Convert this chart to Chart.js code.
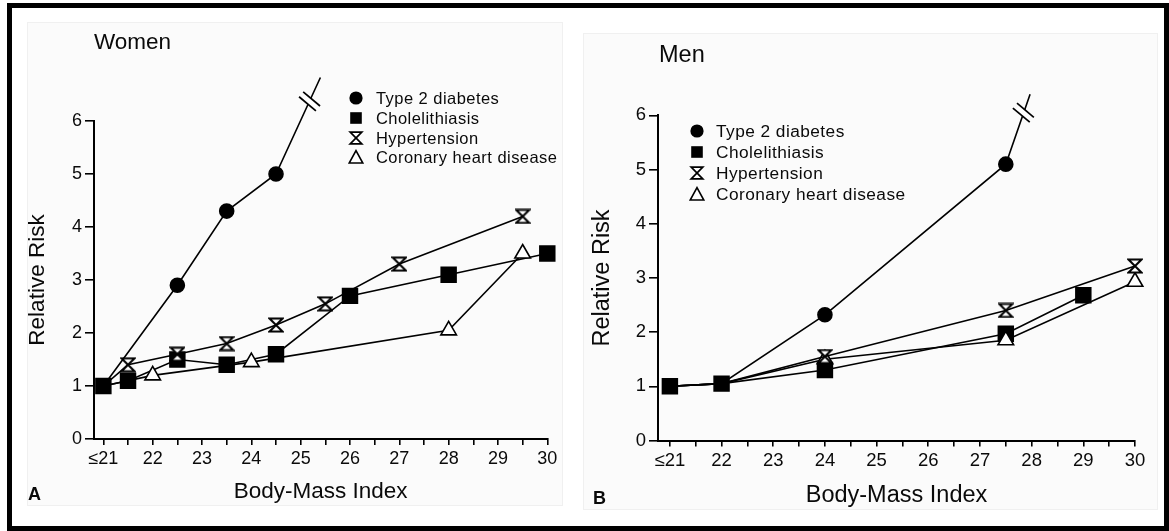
<!DOCTYPE html>
<html>
<head>
<meta charset="utf-8">
<title>Relative risk by body-mass index</title>
<script src="https://cdn.jsdelivr.net/npm/chart.js@4.4.1/dist/chart.umd.min.js"></script>
<style>
  html, body { margin: 0; padding: 0; background: #fff; }
  body { width: 1169px; height: 531px; position: relative; overflow: hidden;
         font-family: "Liberation Sans", Arial, Helvetica, sans-serif; color: #0a0a0a; }
  .frame { position: absolute; left: 7px; top: 3px; width: 1162px; height: 528px;
           box-sizing: border-box; border: 5px solid #000; }
  .panel { position: absolute; background: #fbfbfb; border: 1px solid #f0f0f0; box-sizing: border-box; }
  canvas { position: absolute; top: 0; }
  .title { position: absolute; line-height: 1; white-space: nowrap; }
  .letter { position: absolute; font-weight: bold; line-height: 1; }
  .legend-row { position: absolute; white-space: nowrap; }
  .legend-row svg { position: absolute; top: 0; }
  .legend-row span { position: absolute; top: 0; letter-spacing: 0.45px; }
</style>
</head>
<body>
<div class="frame"></div>
<div class="panel" style="left:27px;top:22px;width:536px;height:484px;"></div>
<div class="panel" style="left:583px;top:33px;width:575px;height:477px;"></div>

<canvas id="women" width="580" height="531" style="left:0;width:580px;height:531px;"></canvas>
<canvas id="men" width="589" height="531" style="left:580px;width:589px;height:531px;"></canvas>

<div class="title" style="left:94px;top:31px;font-size:22.5px;">Women</div>
<div class="title" style="left:659px;top:43px;font-size:23.5px;">Men</div>
<div class="letter" style="left:28px;top:485px;font-size:18px;">A</div>
<div class="letter" style="left:593px;top:489px;font-size:18px;">B</div>
<div id="legend-women"></div>
<div id="legend-men"></div>

<script>
// ---- data -------------------------------------------------------------
const seriesNames = ['Type 2 diabetes', 'Cholelithiasis', 'Hypertension', 'Coronary heart disease'];
const bmiTickValues = [21, 22, 23, 24, 25, 26, 27, 28, 29, 30];
const bmiTickLabels = ['\u226421', '22', '23', '24', '25', '26', '27', '28', '29', '30'];
const riskTickValues = [0, 1, 2, 3, 4, 5, 6];

// Women
const womenDiabetesBmi  = [21, 22.5, 23.5, 24.5, 25.4];
const womenDiabetesRisk = [1.0, 2.9, 4.3, 5.0, 6.82];
const womenGallBmi      = [21, 21.5, 22.5, 23.5, 24.5, 26, 28, 30];
const womenGallRisk     = [1.0, 1.1, 1.5, 1.4, 1.6, 2.7, 3.1, 3.5];
const womenHyperBmi     = [21, 21.5, 22.5, 23.5, 24.5, 25.5, 27, 29.5];
const womenHyperRisk    = [1.0, 1.4, 1.6, 1.8, 2.15, 2.55, 3.3, 4.2];
const womenChdBmi       = [21, 22, 24, 28, 29.5];
const womenChdRisk      = [1.0, 1.2, 1.45, 2.05, 3.5];
const womenBreak        = [25.18, 6.37];

// Men
const menDiabetesBmi  = [21, 22, 24, 27.5, 27.97];
const menDiabetesRisk = [1.0, 1.05, 2.32, 5.1, 6.39];
const menGallBmi      = [21, 22, 24, 27.5, 29];
const menGallRisk     = [1.0, 1.05, 1.3, 1.97, 2.68];
const menHyperBmi     = [21, 22, 24, 27.5, 30];
const menHyperRisk    = [1.0, 1.05, 1.55, 2.4, 3.22];
const menChdBmi       = [21, 22, 24, 27.5, 30];
const menChdRisk      = [1.0, 1.05, 1.5, 1.85, 2.93];
const menBreak        = [27.84, 6.05];

// ---- marker shapes ----------------------------------------------------
function hourglassCanvas(w, h) {
  const c = document.createElement('canvas');
  c.width = w; c.height = h;
  const g = c.getContext('2d');
  g.lineWidth = 2; g.strokeStyle = '#000'; g.fillStyle = '#fff'; g.lineJoin = 'miter';
  g.beginPath();
  g.moveTo(1.5, 1.5); g.lineTo(w - 1.5, 1.5); g.lineTo(1.5, h - 1.5); g.lineTo(w - 1.5, h - 1.5); g.closePath();
  g.fill(); g.stroke();
  return c;
}
const hourglass = hourglassCanvas(16, 16);

Chart.defaults.font.family = '"Liberation Sans", Arial, Helvetica, sans-serif';
Chart.defaults.color = '#0a0a0a';

function pts(xs, ys) { return xs.map((x, i) => ({ x: x, y: ys[i] })); }

// radius list: hide the first `skip` markers (shared reference point) and optionally the last one
function radii(n, r, skip, hideLast) {
  return Array.from({ length: n }, (_, i) => (i < skip || (hideLast && i === n - 1)) ? 0 : r);
}

function buildDatasets(d, skip) {
  const base = { borderColor: '#000', borderWidth: 1.6, pointBorderColor: '#000',
                 pointBorderWidth: 1.6, tension: 0, clip: false, fill: false };
  return [
    Object.assign({}, base, { label: seriesNames[0], data: pts(d.diaX, d.diaY), order: 3,
      pointStyle: 'circle', pointBackgroundColor: '#000',
      pointRadius: radii(d.diaX.length, 7, skip, true) }),
    Object.assign({}, base, { label: seriesNames[1], data: pts(d.galX, d.galY), order: 2,
      pointStyle: 'rect', pointBackgroundColor: '#000',
      pointRadius: radii(d.galX.length, 10.5, 0, false) }),
    Object.assign({}, base, { label: seriesNames[2], data: pts(d.hypX, d.hypY), order: 0,
      pointStyle: hourglass, pointBackgroundColor: '#fff',
      pointRadius: radii(d.hypX.length, 7, skip, false) }),
    Object.assign({}, base, { label: seriesNames[3], data: pts(d.chdX, d.chdY), order: 1,
      pointStyle: 'triangle', pointBackgroundColor: '#fff',
      pointRadius: radii(d.chdX.length, 9, skip, false) })
  ];
}

// Double-slash break marks on the steep diabetes line
const axisBreak = {
  id: 'axisBreak',
  afterDatasetsDraw(chart, args, opts) {
    if (!opts || !opts.at) return;
    const px = chart.scales.x.getPixelForValue(opts.at[0]);
    const py = chart.scales.y.getPixelForValue(opts.at[1]);
    const a = 40 * Math.PI / 180;
    const dx = Math.cos(a), dy = Math.sin(a);
    const nx = -dy, ny = dx;
    const half = 11, gap = 3.2;
    const ctx = chart.ctx;
    ctx.save();
    ctx.fillStyle = '#fff';
    ctx.beginPath();
    ctx.moveTo(px - dx * 8 + nx * gap, py - dy * 8 + ny * gap);
    ctx.lineTo(px + dx * 8 + nx * gap, py + dy * 8 + ny * gap);
    ctx.lineTo(px + dx * 8 - nx * gap, py + dy * 8 - ny * gap);
    ctx.lineTo(px - dx * 8 - nx * gap, py - dy * 8 - ny * gap);
    ctx.closePath();
    ctx.fill();
    ctx.strokeStyle = '#000';
    ctx.lineWidth = 1.7;
    [gap, -gap].forEach(o => {
      ctx.beginPath();
      ctx.moveTo(px - dx * half + nx * o, py - dy * half + ny * o);
      ctx.lineTo(px + dx * half + nx * o, py + dy * half + ny * o);
      ctx.stroke();
    });
    ctx.restore();
  }
};

function bmiLabel(v) {
  const i = bmiTickValues.indexOf(v);
  return i >= 0 ? bmiTickLabels[i] : '';
}

function makeChart(id, datasets, cfg) {
  return new Chart(document.getElementById(id), {
    type: 'line',
    data: { datasets: datasets },
    plugins: [axisBreak],
    options: {
      responsive: false, animation: false, devicePixelRatio: 1, events: [],
      layout: { padding: cfg.padding },
      plugins: { legend: { display: false }, tooltip: { enabled: false }, axisBreak: { at: cfg.breakAt } },
      scales: {
        x: {
          type: 'linear', min: cfg.xMin, max: 30,
          afterFit: s => { s.height = cfg.xHeight; },
          border: { color: '#000', width: 2 },
          grid: { drawOnChartArea: false, drawTicks: true, tickLength: 6, color: '#000', lineWidth: 1.6 },
          ticks: { stepSize: 0.5, includeBounds: false, autoSkip: false, maxRotation: 0,
                   padding: 3, color: '#0a0a0a', font: { size: cfg.tickSize }, callback: v => bmiLabel(v) },
          title: { display: true, text: 'Body-Mass Index', color: '#0a0a0a',
                   font: { size: cfg.titleSize }, padding: { top: 0, bottom: cfg.xTitlePad } }
        },
        y: {
          type: 'linear', min: 0, max: 6,
          afterFit: s => { s.width = cfg.yWidth; },
          border: { color: '#000', width: 2 },
          grid: { drawOnChartArea: false, drawTicks: true, tickLength: 9, color: '#000', lineWidth: 1.6 },
          afterBuildTicks: s => { s.ticks = riskTickValues.map(v => ({ value: v })); },
          ticks: { padding: 3, color: '#0a0a0a', font: { size: cfg.tickSize }, callback: v => String(v) },
          title: { display: true, text: 'Relative Risk', color: '#0a0a0a',
                   font: { size: cfg.titleSize }, padding: { top: cfg.yTitlePad, bottom: 0 } }
        }
      }
    }
  });
}

makeChart('women', buildDatasets({
  diaX: womenDiabetesBmi, diaY: womenDiabetesRisk, galX: womenGallBmi, galY: womenGallRisk,
  hypX: womenHyperBmi, hypY: womenHyperRisk, chdX: womenChdBmi, chdY: womenChdRisk }, 1), {
  padding: { left: 20, right: 32.7, top: 121, bottom: 22 },
  xMin: 20.81, xHeight: 70, yWidth: 74, tickSize: 18, titleSize: 22.5,
  xTitlePad: 3.5, yTitlePad: 4.5, breakAt: womenBreak
});

makeChart('men', buildDatasets({
  diaX: menDiabetesBmi, diaY: menDiabetesRisk, galX: menGallBmi, galY: menGallRisk,
  hypX: menHyperBmi, hypY: menHyperRisk, chdX: menChdBmi, chdY: menChdRisk }, 2), {
  padding: { left: 5, right: 34, top: 115.4, bottom: 20.5 },
  xMin: 20.77, xHeight: 70, yWidth: 73, tickSize: 18.5, titleSize: 23.5,
  xTitlePad: 0.5, yTitlePad: 3, breakAt: menBreak
});

// ---- legends ----------------------------------------------------------
const markerSvg = [
  '<circle cx="8" cy="8" r="6.6" fill="#000"/>',
  '<rect x="2.2" y="2.2" width="11.6" height="11.6" fill="#000"/>',
  '<path d="M2.2 2.2 H13.8 L2.2 13.8 H13.8 Z" fill="#fff" stroke="#000" stroke-width="1.7"/>',
  '<path d="M8 1.6 L14.8 14 H1.2 Z" fill="#fff" stroke="#000" stroke-width="1.6"/>'
];
function buildLegend(id, markerX, textX, rowsY, fontSize) {
  const host = document.getElementById(id);
  seriesNames.forEach((name, i) => {
    const row = document.createElement('div');
    row.className = 'legend-row';
    const h = 20;
    row.style.left = '0px';
    row.style.top = (rowsY[i] - h / 2) + 'px';
    row.style.height = h + 'px';
    row.style.fontSize = fontSize + 'px';
    row.style.lineHeight = h + 'px';
    row.innerHTML = '<svg width="16" height="16" viewBox="0 0 16 16" style="left:' + (markerX - 8) +
      'px;top:2px">' + markerSvg[i] + '</svg><span style="left:' + textX + 'px">' + name + '</span>';
    host.appendChild(row);
  });
}
buildLegend('legend-women', 356, 376, [98.3, 118.1, 137.6, 157.3], 16.5);
buildLegend('legend-men', 696.5, 716, [131.4, 152.4, 173.4, 193.7], 17.3);
</script>
</body>
</html>
